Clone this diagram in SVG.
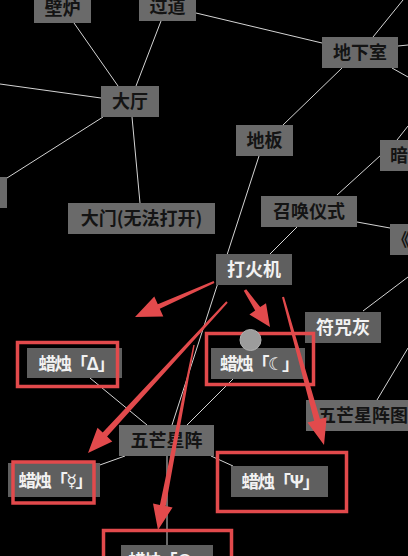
<svg xmlns="http://www.w3.org/2000/svg" width="408" height="556" viewBox="0 0 408 556">
<style>
.bg{fill:#000}
.box{fill:#6a6a6a}
.box2{fill:#5f5f5f}
.dk{font-family:"Noto Sans CJK SC","DejaVu Sans",sans-serif;font-size:18px;font-weight:700;fill:#141414;text-anchor:middle}
.lt{font-family:"Noto Sans CJK SC","DejaVu Sans",sans-serif;font-size:18px;font-weight:700;fill:#f2f2f2;text-anchor:middle}
.cd{font-family:"Noto Sans CJK SC","DejaVu Sans",sans-serif;font-size:17.5px;font-weight:700;fill:#f2f2f2;text-anchor:middle;letter-spacing:-1.5px}
.ln{stroke:#d4d4d4;stroke-width:1;fill:none}
.rb{fill:none;stroke:#e24a4c;stroke-width:3.5}
.ra{fill:#e24a4c}
</style>
<rect class="bg" x="0" y="0" width="408" height="556"/>
<g id="connectors">
<line class="ln" x1="74" y1="23" x2="118" y2="86"/>
<line class="ln" x1="161" y1="21" x2="136" y2="86"/>
<line class="ln" x1="196" y1="13" x2="322" y2="43"/>
<line class="ln" x1="373" y1="37" x2="403" y2="0"/>
<line class="ln" x1="398" y1="46" x2="408" y2="45"/>
<line class="ln" x1="392" y1="68" x2="408" y2="77"/>
<line class="ln" x1="342" y1="68" x2="283" y2="125"/>
<line class="ln" x1="0" y1="84" x2="101" y2="98"/>
<line class="ln" x1="103" y1="117" x2="7" y2="178"/>
<line class="ln" x1="132" y1="117" x2="140" y2="203"/>
<line class="ln" x1="259" y1="156" x2="172" y2="425"/>
<line class="ln" x1="297" y1="227" x2="270" y2="254"/>
<line class="ln" x1="337" y1="195" x2="381" y2="155"/>
<line class="ln" x1="397" y1="140" x2="408" y2="126"/>
<line class="ln" x1="357" y1="222" x2="390" y2="228"/>
<line class="ln" x1="363" y1="311" x2="408" y2="277"/>
<line class="ln" x1="377" y1="400" x2="408" y2="348"/>
<line class="ln" x1="90" y1="378" x2="147" y2="425"/>
<line class="ln" x1="233" y1="379" x2="187" y2="425"/>
<line class="ln" x1="125" y1="456" x2="97" y2="466"/>
<line class="ln" x1="211" y1="456" x2="233" y2="466"/>
<line class="ln" x1="167" y1="456" x2="167" y2="545"/>
</g>
<g id="n-bilu"><rect class="box" x="34" y="-8" width="57" height="31"/><text class="dk" x="62.5" y="15">壁炉</text></g>
<g id="n-guodao"><rect class="box" x="139" y="-10" width="57" height="31"/><text class="dk" x="167.5" y="13">过道</text></g>
<g id="n-dixiashi"><rect class="box" x="322" y="37" width="76" height="31"/><text class="dk" x="360" y="59">地下室</text></g>
<g id="n-dating"><rect class="box" x="101" y="86" width="58" height="31"/><text class="dk" x="130" y="108">大厅</text></g>
<g id="n-diban"><rect class="box" x="236" y="125" width="57" height="31"/><text class="dk" x="264.5" y="147">地板</text></g>
<g id="n-an"><rect class="box" x="380" y="140" width="50" height="31"/><text class="dk" x="390" y="162" style="text-anchor:start">暗</text></g>
<g id="n-left"><rect class="box" x="-50" y="177" width="57" height="31"/></g>
<g id="n-damen"><rect class="box" x="68" y="203" width="147" height="31"/><text class="dk" x="141.5" y="225">大门(无法打开)</text></g>
<g id="n-zhaohuan"><rect class="box" x="261" y="196" width="96" height="31"/><text class="dk" x="309" y="218">召唤仪式</text></g>
<g id="n-book"><rect class="box" x="390" y="224" width="50" height="31"/><text class="dk" x="392" y="246" style="text-anchor:start">《</text></g>
<g id="n-dahuoji"><rect class="box2" x="216" y="254" width="76" height="31"/><text class="lt" x="254" y="276">打火机</text></g>
<g id="n-fuzhouhui"><rect class="box2" x="305" y="312" width="76" height="31"/><text class="lt" x="343" y="334">符咒灰</text></g>
<g id="n-candle-delta"><rect class="box2" x="27" y="348" width="95" height="30"/><text class="cd" x="76" y="370">蜡烛「Δ」</text></g>
<g id="n-candle-moon"><rect class="box2" x="211" y="348" width="94" height="31"/><text class="cd" x="259" y="370">蜡烛「☾」</text></g>
<g id="n-wumangtu"><rect class="box" x="306" y="400" width="120" height="31"/><text class="dk" x="318" y="422" style="text-anchor:start">五芒星阵图</text></g>
<g id="n-wumang"><rect class="box" x="119" y="425" width="95" height="31"/><text class="dk" x="166.5" y="447">五芒星阵</text></g>
<g id="n-candle-mercury"><rect class="box2" x="8" y="463" width="92" height="34"/><text class="cd" x="55" y="487">蜡烛「☿」</text></g>
<g id="n-candle-psi"><rect class="box2" x="231" y="466" width="97" height="31"/><text class="cd" x="280" y="488">蜡烛「Ψ」</text></g>
<g id="n-candle-bottom"><rect class="box2" x="121" y="545" width="92" height="30"/><text class="cd" x="168" y="567">蜡烛「⊕」</text></g>
<g id="annotations">
<rect class="rb" x="17.5" y="342.5" width="100" height="44"/>
<rect class="rb" x="206.5" y="333.5" width="107" height="51"/>
<rect class="rb" x="13" y="462" width="81" height="41"/>
<rect class="rb" x="217.5" y="452.5" width="129" height="59"/>
<rect class="rb" x="103.5" y="530.5" width="128" height="40"/>
<circle cx="250.5" cy="340" r="10.5" fill="#9c9c9c" stroke="#b0b0b0" stroke-width="1"/>
<polygon class="ra" points="213.6,281.1 157.8,304.2 154.3,296.4 135,317 163.3,316.6 159.8,308.8 214.4,282.9"/>
<polygon class="ra" points="246.2,289.2 260.2,307.1 266.0,303.2 270,327 249.4,314.4 255.2,310.5 243.8,290.8"/>
<polygon class="ra" points="226.3,301.3 102.7,432.6 97.5,427.8 88,453 112.3,441.4 107.1,436.6 227.7,302.7"/>
<polygon class="ra" points="193.3,344.9 159.9,504.9 153.0,503.6 158,530 172.6,507.4 165.7,506.1 194.7,345.1"/>
<polygon class="ra" points="284.0,296.7 320.0,419.1 326.7,417.2 324,445 307.5,422.6 314.2,420.7 282.0,297.3"/>
</g>
</svg>
